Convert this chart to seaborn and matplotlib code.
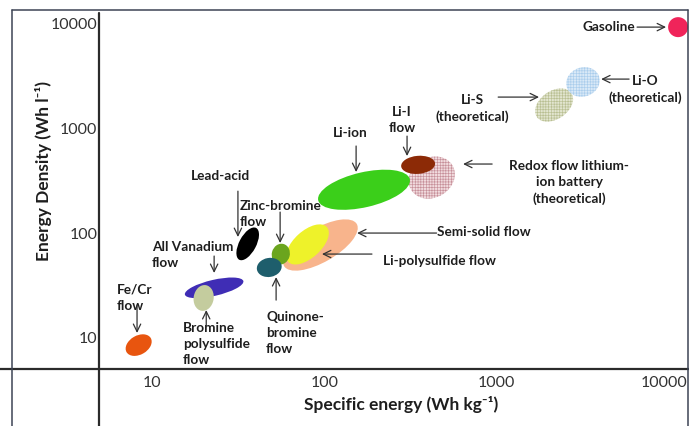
import matplotlib
matplotlib.use("Agg")
import matplotlib.pyplot as plt
import matplotlib.transforms as mtransforms
from matplotlib.patches import Ellipse
from matplotlib.lines import Line2D
import seaborn as sns

# centre of each technology region: specific energy (Wh/kg), energy density (Wh/l)
names = ["Redox flow lithium-ion battery", "Li-ion", "Li-I flow",
         "Fe/Cr flow", "All Vanadium flow", "Bromine polysulfide flow", "Lead-acid",
         "Semi-solid flow", "Li-polysulfide flow", "Zinc-bromine flow", "Quinone-bromine flow",
         "Li-S", "Li-O", "Gasoline"]
specific_energy = [420, 170, 350, 8.4, 23, 20, 36, 95, 80, 56, 48, 2150, 3160, 11250]
energy_density = [340, 260, 450, 8.5, 30, 24, 79, 77, 78, 63, 47, 1680, 2790, 9330]

x_ticks = [10, 100, 1000, 10000]
y_ticks = [10, 100, 1000, 10000]
x_tick_labels = ["10", "100", "1000", "10000"]
y_tick_labels = ["10", "100", "1000", "10000"]

# ellipse shapes in pixels (width, height, angle) and fills
ell_w = [48, 94, 34, 28, 60, 26, 36, 84, 52, 21, 25, 42, 34, 20]
ell_h = [40, 35, 18, 19, 16, 20, 17, 34, 27, 18, 19, 28, 29, 20]
ell_a = [30, 13, 5, 30, 13, 80, 62, 30, 42, 75, 10, 35, 20, 0]
face = ["#f1dbde", "#3bcf1a", "#8c2a06", "#e8550f", "#3f2db5", "#c4cc9e", "#000000",
        "#f8b48c", "#eef22a", "#6ba51e", "#1e5e6c", "#e2e5cf", "#d9e9f7", "#f0245a"]
hatch_col = ["#c7909a", None, None, None, None, None, None,
             None, None, None, None, "#b9bf92", "#aacdec", None]

# labels and arrows (tail -> head), data coordinates
label_txt = ["Gasoline", "Li-O\n(theoretical)", "Li-S\n(theoretical)", "Li-I\nflow",
             "Redox flow lithium-\nion battery\n(theoretical)", "Li-ion", "Lead-acid",
             "Zinc-bromine\nflow", "All Vanadium\nflow", "Fe/Cr\nflow",
             "Bromine\npolysulfide\nflow", "Quinone-\nbromine\nflow",
             "Semi-solid flow", "Li-polysulfide flow"]
label_x = [6340, 7244, 719, 282, 2624, 141, 25.2, 32.5, 10.04, 6.29, 15.2, 46.0, 451, 219]
label_y = [9337, 2360, 1570, 1205, 308, 906, 352, 152, 62.4, 24.2, 8.70, 11.1, 102.5, 54.1]
label_ha = ["right", "center", "center", "center", "center", "center", "center",
            "left", "left", "left", "left", "left", "left", "left"]
arrow_tail = [(6503, 9337), (5848, 2972), (1019, 2000), (302, 847), (940, 458),
              (153, 681), (31.6, 252), (55.5, 159), (23.0, 60.4), (8.22, 20.5),
              (20.7, 12.7), (52.6, 22.9), (448, 100.2), (189, 63.1)]
arrow_head = [(9580, 9337), (4027, 2972), (1758, 2000), (302, 546), (638, 458),
              (153, 384), (31.6, 91.8), (55.5, 80.4), (23.0, 41.6), (8.22, 11.1),
              (20.7, 18.4), (52.6, 38.0), (155, 100.2), (97, 63.1)]

sns.set_theme(style="white")
plt.rcParams["font.family"] = ["Lato", "DejaVu Sans"]
plt.rcParams["hatch.linewidth"] = 0.45

fig = plt.figure(figsize=(6.89, 4.26), dpi=100)
ax = fig.add_axes([0.1433, 0.1331, 0.8567, 0.8364])
ax.set_xscale("log")
ax.set_yscale("log")
ax.set_xlim(4.93, 13010)
ax.set_ylim(4.99, 12740)

for i in range(len(names)):
    trans = fig.dpi_scale_trans + mtransforms.ScaledTranslation(
        specific_energy[i], energy_density[i], ax.transData)
    if hatch_col[i]:
        e = Ellipse((0, 0), ell_w[i] / 100, ell_h[i] / 100, angle=ell_a[i],
                    transform=trans, facecolor=face[i], edgecolor=hatch_col[i],
                    hatch="++++++", linewidth=0, clip_on=False)
    else:
        e = Ellipse((0, 0), ell_w[i] / 100, ell_h[i] / 100, angle=ell_a[i],
                    transform=trans, facecolor=face[i], linewidth=0, clip_on=False)
    ax.add_patch(e)

for i in range(len(label_txt)):
    ax.text(label_x[i], label_y[i], label_txt[i], ha=label_ha[i], va="center",
            fontsize=9.8, fontweight="bold", color="#1e1e1e", linespacing=1.4)
for tail, head in zip(arrow_tail, arrow_head):
    ax.annotate("", xy=head, xytext=tail,
                arrowprops=dict(arrowstyle="->,head_length=0.45,head_width=0.22",
                                color="#333333", lw=0.9, shrinkA=0, shrinkB=0))

# axes: spines replaced by lines that run past the origin
for s in ax.spines.values():
    s.set_visible(False)
ax.add_line(Line2D([0, 0], [-0.2, 1], transform=ax.transAxes, color="#2b2b2b",
                   lw=1.6, clip_on=False))
ax.add_line(Line2D([-0.2, 1], [0, 0], transform=ax.transAxes, color="#2b2b2b",
                   lw=1.6, clip_on=False))

ax.set_xticks(x_ticks, x_tick_labels)
ax.set_yticks(y_ticks, y_tick_labels)
ax.minorticks_off()
ax.tick_params(axis="both", direction="in", length=3, width=1.4, color="#2b2b2b",
               labelsize=11.5, labelcolor="#333333")
ax.tick_params(axis="x", pad=5)
ax.tick_params(axis="y", pad=1)
# last x label sits against the right frame
last = ax.get_xticklabels()[-1]
last.set_transform(last.get_transform() + mtransforms.ScaledTranslation(-5 / 100, 0, fig.dpi_scale_trans))

ax.set_xlabel("Specific energy (Wh kg\u207b\u00b9)", fontsize=12.5, fontweight="bold",
              color="#1e1e1e")
ax.set_ylabel("Energy Density (Wh l\u207b\u00b9)", fontsize=12.5, fontweight="bold",
              color="#1e1e1e")
ax.xaxis.set_label_coords(0.512, -0.10)
ax.xaxis.label.set_verticalalignment("center")
ax.yaxis.set_label_coords(-0.093, 0.557)
ax.yaxis.label.set_verticalalignment("center")

# outer frame of the figure
frame = dict(transform=fig.transFigure, color="#3d4455", lw=1.1)
fig.add_artist(Line2D([0.018, 0.018], [0, 0.9765], **frame))
fig.add_artist(Line2D([0.018, 0.998], [0.9765, 0.9765], **frame))
fig.add_artist(Line2D([0.998, 0.998], [0, 0.9765], **frame))

fig.savefig("out.png", dpi=100)
